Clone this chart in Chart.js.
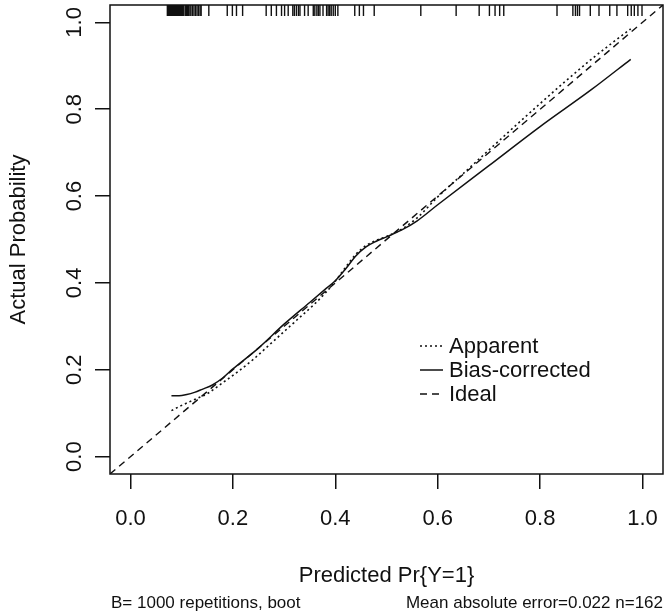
<!DOCTYPE html>
<html>
<head>
<meta charset="utf-8">
<script src="https://cdn.jsdelivr.net/npm/chart.js@4.4.1/dist/chart.umd.min.js"></script>
<style>
  html, body { margin: 0; padding: 0; background: #fff; }
  #wrap { width: 669px; height: 616px; }
</style>
</head>
<body>
<div id="wrap"><canvas id="calibration"></canvas></div>
<script>
// axis setup
const tick_values = [0, 0.2, 0.4, 0.6, 0.8, 1.0];
const axis_min = -0.04;
const axis_max = 1.04;

// apparent calibration curve (dotted)
const apparent_x = [0.080, 0.100, 0.115, 0.130, 0.150, 0.180, 0.210, 0.240, 0.270, 0.300, 0.330, 0.360, 0.380, 0.400, 0.420, 0.440, 0.460, 0.480, 0.500, 0.530, 0.560, 0.600, 0.650, 0.700, 0.750, 0.800, 0.850, 0.900, 0.940, 0.977];
const apparent_y = [0.106, 0.118, 0.126, 0.134, 0.145, 0.170, 0.196, 0.224, 0.256, 0.288, 0.320, 0.352, 0.376, 0.404, 0.436, 0.466, 0.486, 0.498, 0.507, 0.524, 0.550, 0.598, 0.652, 0.706, 0.760, 0.813, 0.865, 0.915, 0.952, 0.985];

// bias-corrected curve (solid)
const bias_x = [0.080, 0.095, 0.110, 0.125, 0.140, 0.160, 0.180, 0.200, 0.250, 0.300, 0.350, 0.380, 0.400, 0.420, 0.440, 0.460, 0.480, 0.500, 0.530, 0.560, 0.600, 0.700, 0.800, 0.900, 0.977];
const bias_y = [0.140, 0.140, 0.143, 0.148, 0.155, 0.165, 0.181, 0.202, 0.250, 0.305, 0.355, 0.385, 0.405, 0.432, 0.462, 0.483, 0.496, 0.506, 0.522, 0.543, 0.580, 0.670, 0.760, 0.845, 0.915];

// ideal line y = x across the whole plot
const ideal_x = [axis_min, axis_max];
const ideal_y = [axis_min, axis_max];

// rug of predicted probabilities along the top
const rug_values = [
  0.072, 0.074, 0.076, 0.078, 0.080, 0.082, 0.084, 0.086, 0.088, 0.090, 0.092, 0.094, 0.096, 0.098,
  0.100, 0.102, 0.104, 0.107, 0.109, 0.111, 0.113, 0.116, 0.118, 0.121, 0.124, 0.127, 0.130,
  0.133, 0.136, 0.138,
  0.153, 0.189, 0.199, 0.207, 0.219, 0.265,
  0.275, 0.285, 0.295, 0.301, 0.308, 0.317, 0.320, 0.324, 0.328, 0.331, 0.340, 0.347,
  0.357, 0.360, 0.364, 0.367, 0.370, 0.376, 0.383, 0.386, 0.389, 0.392, 0.396, 0.400, 0.405,
  0.438, 0.447, 0.455, 0.476,
  0.567, 0.636, 0.681, 0.701, 0.712, 0.721, 0.729,
  0.833, 0.864, 0.869, 0.873, 0.877, 0.898, 0.915, 0.936, 0.950,
  0.971, 0.978, 0.984, 0.991, 0.999
];

const series_labels = ["Apparent", "Bias-corrected", "Ideal"];
const x_title = "Predicted Pr{Y=1}";
const y_title = "Actual Probability";
const footer_left = "B= 1000 repetitions, boot";
const footer_right = "Mean absolute error=0.022 n=162";

const font_family = "'Liberation Sans', Arial, Helvetica, sans-serif";
const ink = "#111";

function to_points(xs, ys) {
    return xs.map((x, i) => ({ x: x, y: ys[i] }));
}

Chart.defaults.font.family = font_family;
Chart.defaults.color = ink;

// R-style box, rug, legend and footer notes
const r_decor = {
    id: "r_decor",
    afterDatasetsDraw(chart) {
        const ctx = chart.ctx;
        const area = chart.chartArea;
        const xs = chart.scales.x;
        ctx.save();
        ctx.strokeStyle = ink;

        // rug
        ctx.lineWidth = 1.4;
        rug_values.forEach(v => {
            const px = xs.getPixelForValue(v);
            ctx.beginPath();
            ctx.moveTo(px, area.top);
            ctx.lineTo(px, area.top + 11);
            ctx.stroke();
        });

        // box
        ctx.lineWidth = 1.5;
        ctx.strokeRect(area.left, area.top, area.right - area.left, area.bottom - area.top);

        // legend
        const datasets = chart.data.datasets;
        ctx.font = "22px " + font_family;
        ctx.fillStyle = ink;
        ctx.textBaseline = "middle";
        ctx.textAlign = "left";
        datasets.forEach((ds, i) => {
            const y = 346 + i * 24;
            ctx.save();
            ctx.lineWidth = ds.borderWidth;
            ctx.setLineDash(ds.borderDash || []);
            ctx.beginPath();
            ctx.moveTo(420, y);
            ctx.lineTo(443, y);
            ctx.stroke();
            ctx.restore();
            ctx.fillText(ds.label, 449, y + 1);
        });

        // footer
        ctx.font = "17px " + font_family;
        ctx.textAlign = "left";
        ctx.fillText(footer_left, area.left + 1, 603);
        ctx.textAlign = "right";
        ctx.fillText(footer_right, area.right, 603);
        ctx.restore();
    }
};

const tick_format = v => Number(v).toFixed(1);
const set_ticks = axis => { axis.ticks = tick_values.map(v => ({ value: v })); };

const chart = new Chart(document.getElementById("calibration"), {
    type: "scatter",
    data: {
        datasets: [{
            label: series_labels[0],
            data: to_points(apparent_x, apparent_y),
            showLine: true,
            borderColor: ink,
            borderWidth: 1.6,
            borderDash: [2, 3],
            pointRadius: 0,
            cubicInterpolationMode: "monotone"
        }, {
            label: series_labels[1],
            data: to_points(bias_x, bias_y),
            showLine: true,
            borderColor: ink,
            borderWidth: 1.5,
            pointRadius: 0,
            cubicInterpolationMode: "monotone"
        }, {
            label: series_labels[2],
            data: to_points(ideal_x, ideal_y),
            showLine: true,
            borderColor: ink,
            borderWidth: 1.4,
            borderDash: [7, 5],
            pointRadius: 0
        }]
    },
    options: {
        responsive: true,
        maintainAspectRatio: false,
        animation: false,
        layout: { padding: { top: 5, right: 6, bottom: 0, left: 0 } },
        plugins: {
            legend: { display: false },
            tooltip: { enabled: false }
        },
        scales: {
            x: {
                type: "linear",
                min: axis_min,
                max: axis_max,
                afterBuildTicks: set_ticks,
                afterFit: s => { s.height = 142; s.paddingLeft = 0; s.paddingRight = 0; },
                border: { display: false },
                grid: { drawOnChartArea: false, drawTicks: true, tickLength: 15, color: ink, lineWidth: 1.5 },
                ticks: { font: { size: 22 }, padding: 17, maxRotation: 0, autoSkip: false, callback: tick_format },
                title: { display: true, text: x_title, font: { size: 22 }, padding: { top: 0, bottom: 27 } }
            },
            y: {
                type: "linear",
                min: axis_min,
                max: axis_max,
                afterBuildTicks: set_ticks,
                afterFit: s => { s.width = 110; s.paddingTop = 0; s.paddingBottom = 0; },
                border: { display: false },
                grid: { drawOnChartArea: false, drawTicks: true, tickLength: 15, color: ink, lineWidth: 1.5 },
                ticks: { font: { size: 22 }, padding: 5, minRotation: 90, maxRotation: 90, crossAlign: "center", autoSkip: false, callback: tick_format },
                title: { display: true, text: y_title, font: { size: 22 }, padding: { top: 6, bottom: 0 } }
            }
        }
    },
    plugins: [r_decor]
});
</script>
</body>
</html>
